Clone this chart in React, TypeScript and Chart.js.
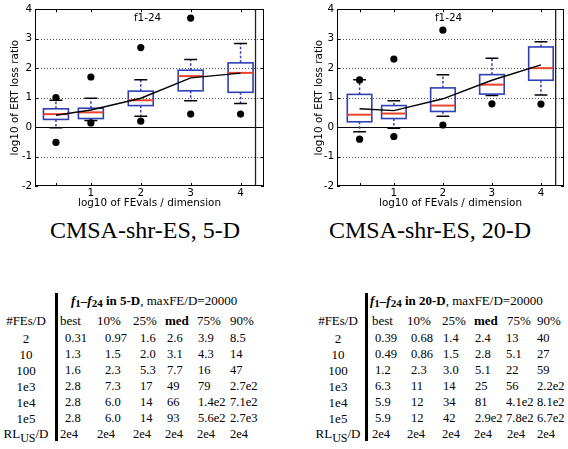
import React, { useEffect, useRef } from "react";
import { Chart, registerables } from "chart.js";

Chart.register(...registerables);

// ---------- data ----------
const positions = [0.3, 1, 2, 3, 4];
const xTickValues = [0.3, 1, 2, 3, 4];
const xTickLabels = ["", "1", "2", "3", "4"];
const yGridValues = [-1, 1, 2, 3];
const maxFELog = 4.3;

// 5-D
const q1_5 = [0.26, 0.29, 0.73, 1.23, 1.18];
const q3_5 = [0.62, 0.64, 1.22, 1.93, 2.18];
const med_5 = [0.44, 0.5, 0.91, 1.73, 1.84];
const wlo_5 = [-0.02, 0.22, 0.37, 0.89, 0.8];
const whi_5 = [0.91, 0.98, 1.61, 2.29, 2.84];
const outHi_5 = [1.0, 1.7, 2.7, 3.7, null];
const outLo_5 = [-0.52, 0.14, 0.2, 0.44, 0.44];
const mean_5 = [0.4, 0.58, 0.98, 1.67, 1.83];

// 20-D
const q1_20 = [0.18, 0.29, 0.53, 1.12, 1.59];
const q3_20 = [1.11, 0.73, 1.33, 1.78, 2.72];
const med_20 = [0.42, 0.46, 0.73, 1.44, 2.0];
const wlo_20 = [-0.16, -0.04, 0.37, 1.07, 1.09];
const whi_20 = [1.61, 0.89, 1.78, 2.34, 2.9];
const outHi_20 = [1.6, 2.31, 3.29, null, null];
const outLo_20 = [-0.41, -0.32, 0.07, 0.79, 0.78];
const mean_20 = [0.62, 0.56, 0.96, 1.59, 2.11];

// tables
const rowLabels = ["2", "10", "100", "1e3", "1e4", "1e5"];
const colHeads = ["best", "10%", "25%", "med", "75%", "90%"];
const table5 = [
  ["0.31", "0.97", "1.6", "2.6", "3.9", "8.5"],
  ["1.3", "1.5", "2.0", "3.1", "4.3", "14"],
  ["1.6", "2.3", "5.3", "7.7", "16", "47"],
  ["2.8", "7.3", "17", "49", "79", "2.7e2"],
  ["2.8", "6.0", "14", "66", "1.4e2", "7.1e2"],
  ["2.8", "6.0", "14", "93", "5.6e2", "2.7e3"],
];
const table20 = [
  ["0.39", "0.68", "1.4", "2.4", "13", "40"],
  ["0.49", "0.86", "1.5", "2.8", "5.1", "27"],
  ["1.2", "2.3", "3.0", "5.1", "22", "59"],
  ["6.3", "11", "14", "25", "56", "2.2e2"],
  ["5.9", "12", "34", "81", "4.1e2", "8.1e2"],
  ["5.9", "12", "42", "2.9e2", "7.8e2", "6.7e2"],
];
const rlus5 = ["2e4", "2e4", "2e4", "2e4", "2e4", "2e4"];
const rlus20 = ["2e4", "2e4", "2e4", "2e4", "2e4", "2e4"];

// ---------- styles ----------
const SANS = "'DejaVu Sans', sans-serif";
const SERIF = "'Liberation Serif', 'Times New Roman', serif";
const BLUE = "#2f3fb4";
const RED = "#e8452f";

type BoxData = {
  q1: number[]; q3: number[]; med: number[]; lo: number[]; hi: number[];
  outHi: (number | null)[]; outLo: (number | null)[]; mean: number[];
};

function makeBoxPlugin(d: BoxData) {
  return {
    id: "boxes",
    beforeDatasetsDraw(chart: any) {
      const { ctx, chartArea: a, scales } = chart;
      const x = scales.x, y = scales.y;
      ctx.save();
      // dotted grid
      ctx.strokeStyle = "#555";
      ctx.lineWidth = 1;
      ctx.setLineDash([1, 2]);
      for (const v of yGridValues) {
        const py = Math.round(y.getPixelForValue(v)) + 0.5;
        ctx.beginPath(); ctx.moveTo(a.left, py); ctx.lineTo(a.right, py); ctx.stroke();
      }
      ctx.setLineDash([]);
      // zero line
      ctx.strokeStyle = "#000";
      const p0 = Math.round(y.getPixelForValue(0)) + 0.5;
      ctx.beginPath(); ctx.moveTo(a.left, p0); ctx.lineTo(a.right, p0); ctx.stroke();
      // maxFE line
      ctx.strokeStyle = "#222";
      ctx.lineWidth = 1.3;
      const pm = x.getPixelForValue(maxFELog);
      ctx.beginPath(); ctx.moveTo(pm, a.top); ctx.lineTo(pm, a.bottom); ctx.stroke();

      // boxes
      positions.forEach((p, i) => {
        const cx = x.getPixelForValue(p);
        const hw = (x.getPixelForValue(p + 0.25) - x.getPixelForValue(p - 0.25)) / 2;
        const cw = (x.getPixelForValue(p + 0.13) - x.getPixelForValue(p - 0.13)) / 2;
        const yq1 = y.getPixelForValue(d.q1[i]);
        const yq3 = y.getPixelForValue(d.q3[i]);
        const ylo = y.getPixelForValue(d.lo[i]);
        const yhi = y.getPixelForValue(d.hi[i]);
        const ym = y.getPixelForValue(d.med[i]);
        // whiskers
        ctx.strokeStyle = BLUE;
        ctx.lineWidth = 1.5;
        ctx.setLineDash([2.5, 2]);
        ctx.beginPath();
        ctx.moveTo(cx, yq3); ctx.lineTo(cx, yhi);
        ctx.moveTo(cx, yq1); ctx.lineTo(cx, ylo);
        ctx.stroke();
        ctx.setLineDash([]);
        // caps
        ctx.strokeStyle = "#000";
        ctx.lineWidth = 1.5;
        ctx.beginPath();
        ctx.moveTo(cx - cw, yhi); ctx.lineTo(cx + cw, yhi);
        ctx.moveTo(cx - cw, ylo); ctx.lineTo(cx + cw, ylo);
        ctx.stroke();
        // box
        ctx.strokeStyle = BLUE;
        ctx.lineWidth = 1.6;
        ctx.strokeRect(cx - hw, yq3, hw * 2, yq1 - yq3);
        // median
        ctx.strokeStyle = RED;
        ctx.lineWidth = 2;
        ctx.beginPath(); ctx.moveTo(cx - hw, ym); ctx.lineTo(cx + hw, ym); ctx.stroke();
      });

      // border
      ctx.strokeStyle = "#000";
      ctx.lineWidth = 1;
      ctx.strokeRect(Math.round(a.left) + 0.5, Math.round(a.top) + 0.5, Math.round(a.right - a.left) - 1, Math.round(a.bottom - a.top) - 1);
      // inner ticks
      const tl = 3;
      ctx.beginPath();
      for (const v of y.ticks.map((t: any) => t.value)) {
        const py = Math.round(y.getPixelForValue(v)) + 0.5;
        ctx.moveTo(a.left, py); ctx.lineTo(a.left + tl, py);
        ctx.moveTo(a.right, py); ctx.lineTo(a.right - tl, py);
      }
      for (const v of xTickValues) {
        const px = Math.round(x.getPixelForValue(v)) + 0.5;
        ctx.moveTo(px, a.top); ctx.lineTo(px, a.top + tl);
        ctx.moveTo(px, a.bottom); ctx.lineTo(px, a.bottom - tl);
      }
      ctx.stroke();
      // label
      ctx.fillStyle = "#000";
      ctx.font = `10.4px ${SANS}`;
      ctx.textAlign = "center";
      ctx.textBaseline = "middle";
      ctx.fillText("f1-24", (a.left + a.right) / 2 - 2, a.top + 9);
      ctx.restore();
    },
  };
}

function BoxChart(props: {
  left: number; yAxisWidth: number; padRight: number; titlePad: number;
  xMin: number; xMax: number; data: BoxData;
}) {
  const ref = useRef<HTMLCanvasElement>(null);
  const { data } = props;
  useEffect(() => {
    const outliers: { x: number; y: number }[] = [];
    positions.forEach((p, i) => {
      if (data.outHi[i] !== null) outliers.push({ x: p, y: data.outHi[i] as number });
      if (data.outLo[i] !== null) outliers.push({ x: p, y: data.outLo[i] as number });
    });
    const font = { family: SANS, size: 10.4 };
    const chart = new Chart(ref.current!, {
      type: "scatter",
      data: {
        datasets: [
          {
            data: positions.map((p, i) => ({ x: p, y: data.mean[i] })),
            showLine: true,
            borderColor: "#000",
            borderWidth: 1.4,
            pointRadius: 0,
            tension: 0,
          } as any,
          {
            data: outliers,
            pointRadius: 3.6,
            backgroundColor: "#000",
            borderWidth: 0,
          },
        ],
      },
      options: {
        animation: false,
        responsive: false,
        devicePixelRatio: 1,
        layout: { padding: { left: 0, right: props.padRight, top: 6, bottom: 0 } },
        plugins: { legend: { display: false }, tooltip: { enabled: false } },
        events: [],
        scales: {
          x: {
            type: "linear",
            min: props.xMin,
            max: props.xMax,
            afterBuildTicks: (s: any) => {
              s.ticks = xTickValues.map((v) => ({ value: v }));
            },
            afterFit: (s: any) => { s.height = 24; },
            grid: { display: false, drawTicks: false },
            border: { display: false },
            ticks: {
              autoSkip: false,
              maxRotation: 0,
              padding: 1,
              color: "#000",
              font,
              callback: (v: any) => {
                const idx = xTickValues.indexOf(v);
                return idx >= 0 ? xTickLabels[idx] : "";
              },
            },
            title: {
              display: true,
              text: "log10 of FEvals / dimension",
              color: "#000",
              font,
              padding: { top: 0, bottom: 0 },
            },
          },
          y: {
            type: "linear",
            min: -2,
            max: 4,
            afterFit: (s: any) => { s.width = props.yAxisWidth; },
            grid: { display: false, drawTicks: false },
            border: { display: false },
            ticks: { stepSize: 1, padding: 3, color: "#000", font },
            title: {
              display: true,
              text: "log10 of ERT loss ratio",
              color: "#000",
              font,
              padding: { top: props.titlePad, bottom: 0 },
            },
          },
        },
      },
      plugins: [makeBoxPlugin(data)],
    });
    return () => chart.destroy();
  }, []);
  return (
    <canvas
      ref={ref}
      width={284}
      height={210}
      style={{ position: "absolute", left: props.left, top: 0, width: 284, height: 210, display: "block" }}
    />
  );
}

function Cell(props: { x: number; y: number; children: any; center?: boolean; size?: number }) {
  return (
    <div
      style={{
        position: "absolute",
        left: props.x,
        top: props.y,
        transform: props.center ? "translate(-50%, -50%)" : "translateY(-50%)",
        fontFamily: SERIF,
        fontSize: props.size ?? 12.5,
        lineHeight: "15px",
        whiteSpace: "nowrap",
        color: "#000",
      }}
    >
      {props.children}
    </div>
  );
}

const rowY = [338, 354, 370, 386, 402, 418];
const headY = 320;
const titleY = 301;
const rlY = 434;

function StatTable(props: {
  dim: string; values: string[][]; rl: string[];
  labelCenter: number; barX: number; titleX: number;
  headLefts: number[]; dataLefts: number[];
}) {
  const { values, rl, labelCenter, barX, titleX, headLefts, dataLefts } = props;
  return (
    <>
      <div style={{ position: "absolute", left: barX, top: 293, width: 2.5, height: 148, background: "#000" }} />
      <Cell x={titleX} y={titleY} size={13}>
        <b><i>f</i></b><b style={{ position: "relative", top: 2, fontSize: 11 }}>1</b>
        <b>–</b><b><i>f</i></b><b style={{ position: "relative", top: 2, fontSize: 11 }}>24</b>
        <b> in {props.dim}</b>, maxFE/D=20000
      </Cell>
      <Cell x={labelCenter} y={headY} center size={13}>#FEs/D</Cell>
      {colHeads.map((h, j) => (
        <Cell key={h} x={headLefts[j]} y={headY} size={13}>{h === "med" ? <b>{h}</b> : h}</Cell>
      ))}
      {rowLabels.map((r, i) => (
        <React.Fragment key={r}>
          <Cell x={labelCenter} y={rowY[i]} center size={13}>{r}</Cell>
          {values[i].map((v, j) => (
            <Cell key={j} x={dataLefts[j]} y={rowY[i]}>{v}</Cell>
          ))}
        </React.Fragment>
      ))}
      <Cell x={labelCenter} y={rlY} center size={13}>
        RL<span style={{ position: "relative", top: 4, fontSize: 12 }}>US</span>/D
      </Cell>
      {rl.map((v, j) => (
        <Cell key={j} x={headLefts[j]} y={rlY}>{v}</Cell>
      ))}
    </>
  );
}

export default function App() {
  return (
    <div style={{ position: "fixed", left: 0, top: 0, width: 568, height: 449, overflow: "hidden", background: "#fff" }}>
      <BoxChart
        left={0} yAxisWidth={35} padRight={20} titlePad={9} xMin={-0.12} xMax={4.47}
        data={{ q1: q1_5, q3: q3_5, med: med_5, lo: wlo_5, hi: whi_5, outHi: outHi_5, outLo: outLo_5, mean: mean_5 }}
      />
      <BoxChart
        left={284} yAxisWidth={53} padRight={1} titlePad={29} xMin={-0.16} xMax={4.47}
        data={{ q1: q1_20, q3: q3_20, med: med_20, lo: wlo_20, hi: whi_20, outHi: outHi_20, outLo: outLo_20, mean: mean_20 }}
      />
      <Cell x={145} y={230} center size={24}>CMSA-shr-ES, 5-D</Cell>
      <Cell x={430} y={230} center size={24}>CMSA-shr-ES, 20-D</Cell>
      <StatTable
        dim="5-D" values={table5} rl={rlus5}
        labelCenter={26} barX={55} titleX={71}
        headLefts={[60, 97, 133, 165, 197, 230]}
        dataLefts={[65, 105, 140, 167, 198, 230]}
      />
      <StatTable
        dim="20-D" values={table20} rl={rlus20}
        labelCenter={338} barX={365} titleX={370}
        headLefts={[372, 407, 442, 474, 507, 537]}
        dataLefts={[375, 411, 443, 475, 506, 537]}
      />
    </div>
  );
}
